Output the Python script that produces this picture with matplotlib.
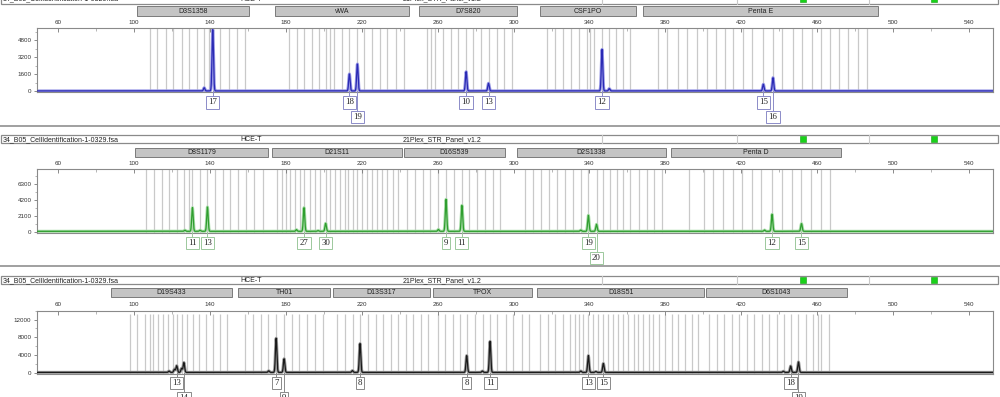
import numpy as np
import matplotlib
matplotlib.use("Agg")
import matplotlib.pyplot as plt
import matplotlib.transforms as mtransforms
from matplotlib.patches import Rectangle
from matplotlib.lines import Line2D

FIG_W, FIG_H = 1000, 397

FILE_NAME = "34_B05_CellIdentification-1-0329.fsa"
SAMPLE_NAME = "HCE-T"
PANEL_NAME = "21Plex_STR_Panel_v1.2"

SIZE_TICKS = [60, 100, 140, 180, 220, 260, 300, 340, 380, 420, 460, 500, 540]
SIZE_MINOR_TICKS = [80, 120, 160, 200, 240, 280, 320, 360, 400, 440, 480, 520]
SIZE_RANGE = (48.9, 552.6)

# ---------------- Panel 1 (blue dye) ----------------
P1_MARKERS = ["D3S1358", "vWA", "D7S820", "CSF1PO", "Penta E"]
P1_MARKER_STARTS = [101.6, 174.3, 250.2, 314.0, 368.3]
P1_MARKER_ENDS = [160.6, 244.9, 301.9, 364.6, 492.1]
P1_BINS = [108.5, 112.2, 116.9, 120.6, 125.3, 129.0, 133.2, 136.9, 139.6, 141.5, 145.4, 150.1, 154.3, 158.5,
           181.7, 186.0, 189.6, 193.8, 197.5, 201.2, 203.3, 205.4, 209.7, 213.5, 217.7, 221.3, 225.5, 229.7,
           233.4, 238.1, 242.3,
           254.4, 256.5, 258.7, 262.9, 267.1, 270.8, 275.0, 278.7, 282.9, 286.8, 291.4, 295.0, 299.3,
           317.7, 321.9, 326.1, 330.4, 334.6, 338.8, 340.4, 342.5, 346.6, 350.4, 354.1, 357.8, 361.5,
           376.2, 380.9, 386.7, 391.5, 396.7, 402.0, 406.8, 411.5, 415.7, 421.0, 425.7, 431.6, 436.7,
           441.5, 447.3, 452.1, 457.4, 462.1, 466.8, 471.6, 476.3, 481.6, 486.3]
P1_ALLELES = ["17", "18", "19", "10", "13", "12", "15", "16"]
P1_ALLELE_SIZES = [141.5, 213.5, 217.7, 275.0, 286.8, 346.6, 431.6, 436.7]
P1_ALLELE_HEIGHTS = [5800, 1600, 2540, 1820, 720, 3920, 630, 1250]
P1_MINOR_SIZES = [137.0, 350.4]
P1_MINOR_HEIGHTS = [300, 220]
P1_Y_TICKS = [0, 1600, 3200, 4800]
P1_Y_MAX = 5930

# ---------------- Panel 2 (green dye) ----------------
P2_MARKERS = ["D8S1179", "D21S11", "D16S539", "D2S1338", "Penta D"]
P2_MARKER_STARTS = [100.6, 172.8, 242.3, 301.9, 383.0]
P2_MARKER_ENDS = [170.6, 241.3, 295.5, 380.4, 472.6]
P2_BINS = [106.2, 110.6, 114.6, 118.5, 122.5, 126.6, 129.0, 130.8, 134.8, 138.7, 142.7, 146.8, 150.6, 155.0,
           159.1, 163.3, 168.2,
           175.2, 177.9, 180.1, 182.2, 184.9, 187.5, 189.6, 192.8, 195.4, 198.1, 201.0, 203.3, 206.0, 208.6,
           211.2, 213.0, 215.6, 217.7, 220.0, 222.7, 225.3, 227.9, 230.6, 233.2, 236.7, 239.3,
           243.9, 248.1, 252.3, 256.0, 260.2, 264.4, 268.7, 272.8, 276.6, 280.8, 285.0, 289.2, 292.9,
           306.1, 310.1, 314.3, 318.9, 323.1, 327.2, 331.5, 335.6, 339.4, 343.7, 347.3, 350.9, 354.7, 357.9,
           361.4, 366.3, 370.2, 374.0, 378.1,
           392.6, 400.4, 405.3, 410.2, 415.5, 420.3, 425.5, 430.3, 436.2, 441.3, 446.6, 451.7, 456.6, 461.9,
           466.8]
P2_ALLELES = ["11", "13", "27", "30", "9", "11", "19", "20", "12", "15"]
P2_ALLELE_SIZES = [130.8, 138.7, 189.6, 201.0, 264.4, 272.8, 339.4, 343.7, 436.2, 451.7]
P2_ALLELE_HEIGHTS = [3150, 3230, 3150, 1060, 4250, 3450, 2130, 930, 2260, 1020]
P2_MINOR_SIZES = [126.8, 134.8, 185.6, 197.0, 260.4, 335.4, 432.2]
P2_MINOR_HEIGHTS = [150, 140, 220, 90, 250, 160, 170]
P2_Y_TICKS = [0, 2100, 4200, 6300]
P2_Y_MAX = 8290

# ---------------- Panel 3 (black dye) ----------------
P3_MARKERS = ["D19S433", "TH01", "D13S317", "TPOX", "D18S51", "D6S1043"]
P3_MARKER_STARTS = [87.8, 154.8, 204.9, 257.6, 312.4, 401.4]
P3_MARKER_ENDS = [151.5, 203.3, 256.0, 309.8, 400.4, 475.7]
P3_BINS = [97.9, 101.8, 105.8, 108.5, 110.2, 112.8, 115.2, 118.1, 120.4, 122.5, 125.2, 127.8, 131.3, 134.5,
           138.0, 141.8, 145.4, 149.2,
           158.5, 162.6, 166.8, 170.8, 174.9, 179.1, 183.1, 187.1, 191.0, 195.4, 199.5,
           207.2, 211.2, 215.3, 219.1, 223.2, 227.6, 231.4, 235.3, 239.3, 243.4, 247.2, 251.1, 255.1,
           260.0, 263.9, 268.0, 271.8, 275.3, 279.7, 283.8, 287.6, 291.5, 296.1, 299.9, 304.3, 308.3,
           314.0, 318.0, 321.9, 325.9, 329.8, 332.4, 334.7, 336.8, 339.4, 342.0, 344.7, 347.3, 350.0, 352.6,
           355.2, 357.9, 360.5, 363.2, 365.8, 368.4, 371.1, 373.7, 376.8, 379.8, 383.4, 386.8, 390.4, 393.9,
           397.4,
           403.2, 407.0, 410.9, 415.0, 419.0, 422.8, 426.7, 430.8, 434.8, 438.7, 442.5, 446.0, 450.1, 454.1,
           458.0, 460.6, 461.9, 466.4]
P3_ALLELES = ["13", "14", "7", "9", "8", "8", "11", "13", "15", "18", "19"]
P3_ALLELE_SIZES = [122.5, 126.3, 174.9, 179.1, 219.1, 275.3, 287.6, 339.4, 347.3, 446.0, 450.1]
P3_ALLELE_HEIGHTS = [1500, 2220, 7700, 3080, 6500, 3790, 7000, 3790, 2010, 1430, 2350]
P3_MINOR_SIZES = [118.5, 121.3, 125.1, 171.0, 215.1, 283.6, 335.4, 343.3, 442.1]
P3_MINOR_HEIGHTS = [300, 700, 900, 350, 400, 300, 300, 200, 250]
P3_Y_TICKS = [0, 4000, 8000, 12000]
P3_Y_MAX = 13280

PANELS = [
    dict(markers=P1_MARKERS, starts=P1_MARKER_STARTS, ends=P1_MARKER_ENDS, bins=P1_BINS,
         alleles=P1_ALLELES, asizes=P1_ALLELE_SIZES, aheights=P1_ALLELE_HEIGHTS,
         msizes=P1_MINOR_SIZES, mheights=P1_MINOR_HEIGHTS, yticks=P1_Y_TICKS, ymax=P1_Y_MAX,
         color="#2a2ab4", halo="#9a9ae6", label_edge="#8c8cc8",
         header=(-6.0, 3.5), bars=(6.0, 15.7), box=(28.4, 91.3, 92.0), rows=(102.5, 117.0), sep=126.0),
    dict(markers=P2_MARKERS, starts=P2_MARKER_STARTS, ends=P2_MARKER_ENDS, bins=P2_BINS,
         alleles=P2_ALLELES, asizes=P2_ALLELE_SIZES, aheights=P2_ALLELE_HEIGHTS,
         msizes=P2_MINOR_SIZES, mheights=P2_MINOR_HEIGHTS, yticks=P2_Y_TICKS, ymax=P2_Y_MAX,
         color="#2f9e2f", halo="#a8dca8", label_edge="#9cc89c",
         header=(135.0, 143.3), bars=(147.7, 156.7), box=(169.3, 231.7, 232.5), rows=(243.3, 258.3), sep=266.0),
    dict(markers=P3_MARKERS, starts=P3_MARKER_STARTS, ends=P3_MARKER_ENDS, bins=P3_BINS,
         alleles=P3_ALLELES, asizes=P3_ALLELE_SIZES, aheights=P3_ALLELE_HEIGHTS,
         msizes=P3_MINOR_SIZES, mheights=P3_MINOR_HEIGHTS, yticks=P3_Y_TICKS, ymax=P3_Y_MAX,
         color="#1a1a1a", halo="#9a9a9a", label_edge="#8a8a8a",
         header=(276.0, 284.3), bars=(287.7, 296.7), box=(310.7, 372.7, 373.5), rows=(383.3, 398.5), sep=None),
]

BOX_LEFT, BOX_RIGHT = 37.0, 993.0
SANS = ["Liberation Sans", "DejaVu Sans"]
SERIF = ["Liberation Serif", "DejaVu Serif"]

fig = plt.figure(figsize=(FIG_W / 100, FIG_H / 100), dpi=100)
fig.patch.set_facecolor("white")


def fy(ypx):
    return 1.0 - ypx / FIG_H


def fx(xpx):
    return xpx / FIG_W


size_grid = np.linspace(SIZE_RANGE[0], SIZE_RANGE[1], 8000)

for p in PANELS:
    top, zero, bottom = p["box"]
    units_per_px = p["ymax"] / (zero - top)
    ymin = -(bottom - zero) * units_per_px

    # header row
    h0, h1 = p["header"]
    fig.add_artist(Rectangle((fx(0.5), fy(h1)), fx(997.5), (h1 - h0) / FIG_H,
                             transform=fig.transFigure, facecolor="white",
                             edgecolor="#8a8a8a", lw=0.9, zorder=1))
    hc = (h0 + h1) / 2 + 0.3
    fig.text(fx(3), fy(hc), FILE_NAME, fontsize=5, family=SANS, va="center", ha="left", color="#222")
    fig.text(fx(240), fy(hc), SAMPLE_NAME, fontsize=5, family=SANS, va="center", ha="left", color="#222")
    fig.text(fx(403), fy(hc), PANEL_NAME, fontsize=5, family=SANS, va="center", ha="left", color="#222")
    for xd in (602, 737, 869):
        fig.add_artist(Line2D([fx(xd), fx(xd)], [fy(h0), fy(h1)], transform=fig.transFigure,
                              color="#c8c8c8", lw=0.8))
    for xg in (803, 934):
        fig.add_artist(Rectangle((fx(xg - 3), fy(hc + 3)), 6 / FIG_W, 6 / FIG_H,
                                 transform=fig.transFigure, facecolor="#19d119",
                                 edgecolor="#10a010", lw=0.4, zorder=3))

    # plot axes
    ax = fig.add_axes([fx(BOX_LEFT), fy(bottom), fx(BOX_RIGHT - BOX_LEFT), (bottom - top) / FIG_H])
    ax.set_xlim(*SIZE_RANGE)
    ax.set_ylim(ymin, p["ymax"])
    for sp in ax.spines.values():
        sp.set_color("#8a8a8a")
        sp.set_linewidth(0.8)
    ax.xaxis.set_ticks_position("top")
    ax.set_xticks(SIZE_TICKS)
    ax.set_xticks(SIZE_MINOR_TICKS, minor=True)
    ax.set_xticklabels([str(t) for t in SIZE_TICKS], fontsize=4.5, family=SANS, color="#333")
    ax.tick_params(axis="x", which="major", direction="in", length=3, width=0.6, color="#777", pad=2.5)
    ax.tick_params(axis="x", which="minor", direction="in", length=2, width=0.5, color="#999")
    ax.set_yticks(p["yticks"])
    step = p["yticks"][1] - p["yticks"][0]
    ax.set_yticks([t + step / 2 for t in p["yticks"]], minor=True)
    ax.set_yticklabels([str(t) for t in p["yticks"]], fontsize=4.5, family=SANS, color="#333")
    ax.tick_params(axis="y", which="major", direction="out", length=2.5, width=0.6, color="#777", pad=1.5)
    ax.tick_params(axis="y", which="minor", direction="out", length=1.5, width=0.5, color="#999")

    # bins
    ax.vlines(p["bins"], ymin, p["ymax"], color="#c9c9c9", lw=0.9, zorder=1)

    # trace from peak data
    all_s = list(p["asizes"]) + list(p["msizes"])
    all_h = list(p["aheights"]) + list(p["mheights"])
    sig = 0.38
    trace = np.full_like(size_grid, p["ymax"] * 0.006)
    for s, h in zip(all_s, all_h):
        trace += h * np.exp(-0.5 * ((size_grid - s) / sig) ** 2)
    ax.plot(size_grid, trace, color=p["halo"], lw=2.2, zorder=2, solid_capstyle="butt")
    ax.plot(size_grid, trace, color=p["color"], lw=0.9, zorder=3)

    # marker bars (data x, figure y)
    blend = mtransforms.blended_transform_factory(ax.transData, fig.transFigure)
    b0, b1 = p["bars"]
    for name, s0, s1 in zip(p["markers"], p["starts"], p["ends"]):
        ax.add_patch(Rectangle((s0, fy(b1)), s1 - s0, (b1 - b0) / FIG_H, transform=blend,
                               facecolor="#c4c4c4", edgecolor="#7a7a7a", lw=0.7, clip_on=False, zorder=4))
        ax.text((s0 + s1) / 2, fy((b0 + b1) / 2 + 0.3), name, transform=blend, fontsize=5, family=SANS,
                ha="center", va="center", color="#222", clip_on=False, zorder=5)

    # allele labels
    r1, r2 = p["rows"]
    prev = None
    for lab, s in zip(p["alleles"], p["asizes"]):
        row = r2 if (prev is not None and s - prev < 6.0) else r1
        prev = s
        ax.plot([s, s], [fy(zero), fy(row - 5.5)], transform=blend, color=p["label_edge"], lw=0.7,
                clip_on=False, zorder=4)
        ax.text(s, fy(row), lab, transform=blend, fontsize=6.3, family=SERIF, ha="center", va="center",
                color="#222", clip_on=False, zorder=6,
                bbox=dict(boxstyle="square,pad=0.25", facecolor="white", edgecolor=p["label_edge"], lw=0.7))

    # separator
    if p["sep"] is not None:
        fig.add_artist(Line2D([0, 1], [fy(p["sep"]), fy(p["sep"])], transform=fig.transFigure,
                              color="#a0a0a0", lw=1.4))

fig.savefig("out.png", dpi=100, facecolor="white")
